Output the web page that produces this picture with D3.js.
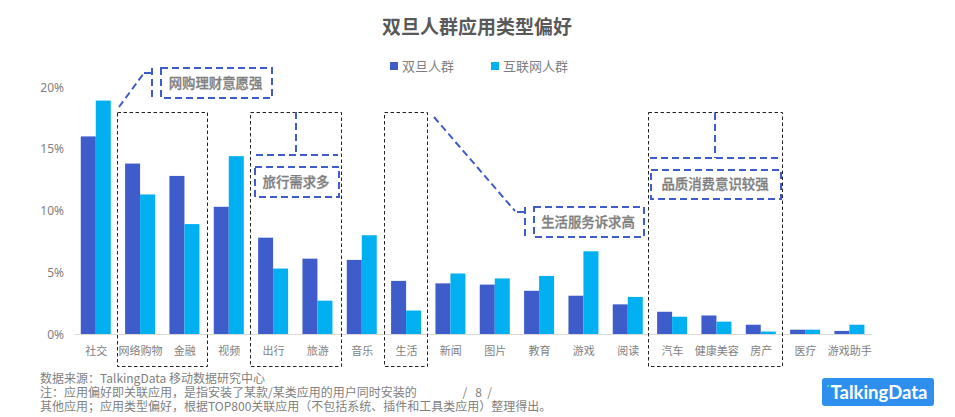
<!DOCTYPE html>
<html>
<head>
<meta charset="utf-8">
<script src="https://cdnjs.cloudflare.com/ajax/libs/d3/7.8.5/d3.min.js"></script>
<style>
	html, body { margin: 0; padding: 0; background: #fff; overflow: hidden; }
	text { font-family: "Noto Sans CJK SC", sans-serif; }
</style>
</head>
<body>
<div id="chart"></div>
<script>
const categories = ["社交", "网络购物", "金融", "视频", "出行", "旅游", "音乐", "生活", "新闻", "图片", "教育", "游戏", "阅读", "汽车", "健康美容", "房产", "医疗", "游戏助手"];
const holidayUsers = [16.0, 13.8, 12.8, 10.3, 7.8, 6.1, 6.0, 4.3, 4.1, 4.0, 3.5, 3.1, 2.4, 1.8, 1.5, 0.75, 0.35, 0.25];
const internetUsers = [18.9, 11.3, 8.9, 14.4, 5.3, 2.7, 8.0, 1.9, 4.9, 4.5, 4.7, 6.7, 3.0, 1.4, 1.0, 0.2, 0.35, 0.75];
const seriesNames = ["双旦人群", "互联网人群"];
const yTicks = [0, 5, 10, 15, 20];
const footnotes = [
	"数据来源：TalkingData 移动数据研究中心",
	"注：应用偏好即关联应用，是指安装了某款/某类应用的用户同时安装的                 /   8  /",
	"其他应用；应用类型偏好，根据TOP800关联应用（不包括系统、插件和工具类应用）整理得出。"
];

const width = 955, height = 417;
const blue = "#3f5ccb", cyan = "#00b0f0", grey = "#7f7f7f";

const svg = d3.select("#chart").append("svg")
	.attr("width", width)
	.attr("height", height);

const x = d3.scaleBand().domain(categories).range([74, 872]);
const y = d3.scaleLinear().domain([0, 20]).range([334, 87]);
const barW = 15;

svg.append("text")
	.attr("x", 477)
	.attr("y", 34)
	.attr("text-anchor", "middle")
	.attr("font-size", 19)
	.attr("font-weight", "bold")
	.attr("fill", "#595959")
	.text("双旦人群应用类型偏好");

// legend
[[390, blue, seriesNames[0]], [491, cyan, seriesNames[1]]].forEach(function (d) {
	svg.append("rect").attr("x", d[0]).attr("y", 62).attr("width", 8).attr("height", 8).attr("fill", d[1]);
	svg.append("text").attr("x", d[0] + 12).attr("y", 70.5).attr("font-size", 13).attr("fill", grey).text(d[2]);
});

// axes
const yAxis = svg.append("g")
	.attr("transform", "translate(74,0.4)")
	.call(d3.axisLeft(y).tickValues(yTicks).tickSize(0).tickFormat(function (d) { return d + "%"; }));
yAxis.select(".domain").remove();
yAxis.selectAll("text").attr("x", -10).attr("font-size", 12).attr("fill", grey)
	.style("font-family", "\"Noto Sans\", sans-serif");

const xAxis = svg.append("g")
	.attr("transform", "translate(0,334)")
	.call(d3.axisBottom(x).tickSize(0));
xAxis.select(".domain").attr("stroke", "#d9d9d9").attr("stroke-width", 1);
xAxis.selectAll("text").attr("y", 13).attr("font-size", 11).attr("fill", grey)
	.style("font-family", "\"Noto Sans CJK SC\", sans-serif");

// bars
svg.append("g").selectAll("rect")
	.data(holidayUsers)
	.enter().append("rect")
	.attr("x", function (d, i) { return x(categories[i]) + x.bandwidth() / 2 - barW - 0.4; })
	.attr("y", function (d) { return y(d); })
	.attr("width", barW)
	.attr("height", function (d) { return y(0) - y(d); })
	.attr("fill", blue);

svg.append("g").selectAll("rect")
	.data(internetUsers)
	.enter().append("rect")
	.attr("x", function (d, i) { return x(categories[i]) + x.bandwidth() / 2 - 0.4; })
	.attr("y", function (d) { return y(d); })
	.attr("width", barW)
	.attr("height", function (d) { return y(0) - y(d); })
	.attr("fill", cyan);

// black dashed highlight boxes
[[117, 207], [250, 341], [384, 427], [648, 782]].forEach(function (d) {
	svg.append("rect")
		.attr("x", d[0] + 0.5).attr("y", 112.5)
		.attr("width", d[1] - d[0]).attr("height", 254)
		.attr("fill", "none")
		.attr("stroke", "#222")
		.attr("stroke-width", 1)
		.attr("stroke-dasharray", "3.5 2.5");
});

// blue callouts
function callout(x0, y0, x1, y1, label) {
	svg.append("rect")
		.attr("x", x0).attr("y", y0)
		.attr("width", x1 - x0).attr("height", y1 - y0)
		.attr("fill", "#fff")
		.attr("stroke", blue)
		.attr("stroke-width", 2)
		.attr("stroke-dasharray", "7 4");
	svg.append("text")
		.attr("x", (x0 + x1) / 2 - 1)
		.attr("y", (y0 + y1) / 2 + 4.5)
		.attr("text-anchor", "middle")
		.attr("font-size", 13.4)
		.attr("font-weight", 500)
		.attr("fill", grey)
		.attr("stroke", grey)
		.attr("stroke-width", 0.3)
		.text(label);
}
function connector(points) {
	svg.append("path")
		.attr("d", d3.line()(points))
		.attr("fill", "none")
		.attr("stroke", blue)
		.attr("stroke-width", 2)
		.attr("stroke-dasharray", "7 4");
}

connector([[119, 107], [144, 73]]);
connector([[144, 73], [152, 73]]);
connector([[152, 68], [152, 98]]);
callout(161, 68, 272, 98, "网购理财意愿强");

connector([[296, 112], [296, 155]]);
connector([[256, 155], [338, 155]]);
callout(255, 167, 339, 197, "旅行需求多");

connector([[434, 117], [515, 211]]);
connector([[517, 212], [525, 212]]);
connector([[525, 207], [525, 237]]);
callout(534, 207, 644, 237, "生活服务诉求高");

connector([[715, 113], [715, 158]]);
connector([[650, 158], [781, 158]]);
callout(651, 170, 781, 199, "品质消费意识较强");

// footnotes
svg.append("g").selectAll("text")
	.data(footnotes)
	.enter().append("text")
	.attr("x", 40)
	.attr("y", function (d, i) { return 383 + i * 14; })
	.attr("font-size", 12)
	.attr("fill", grey)
	.attr("xml:space", "preserve")
	.text(function (d) { return d; });

// logo
svg.append("rect")
	.attr("x", 822).attr("y", 378)
	.attr("width", 112).attr("height", 28)
	.attr("rx", 3)
	.attr("fill", "#2f8fef");
svg.append("rect")
	.attr("x", 827).attr("y", 385)
	.attr("width", 2).attr("height", 2)
	.attr("fill", "#3fe0c0");
svg.append("text")
	.attr("x", 879).attr("y", 398.5)
	.attr("text-anchor", "middle")
	.attr("font-size", 18.5)
	.attr("font-weight", "bold")
	.attr("fill", "#fff")
	.style("font-family", "Lato, sans-serif")
	.text("TalkingData");
</script>
</body>
</html>
